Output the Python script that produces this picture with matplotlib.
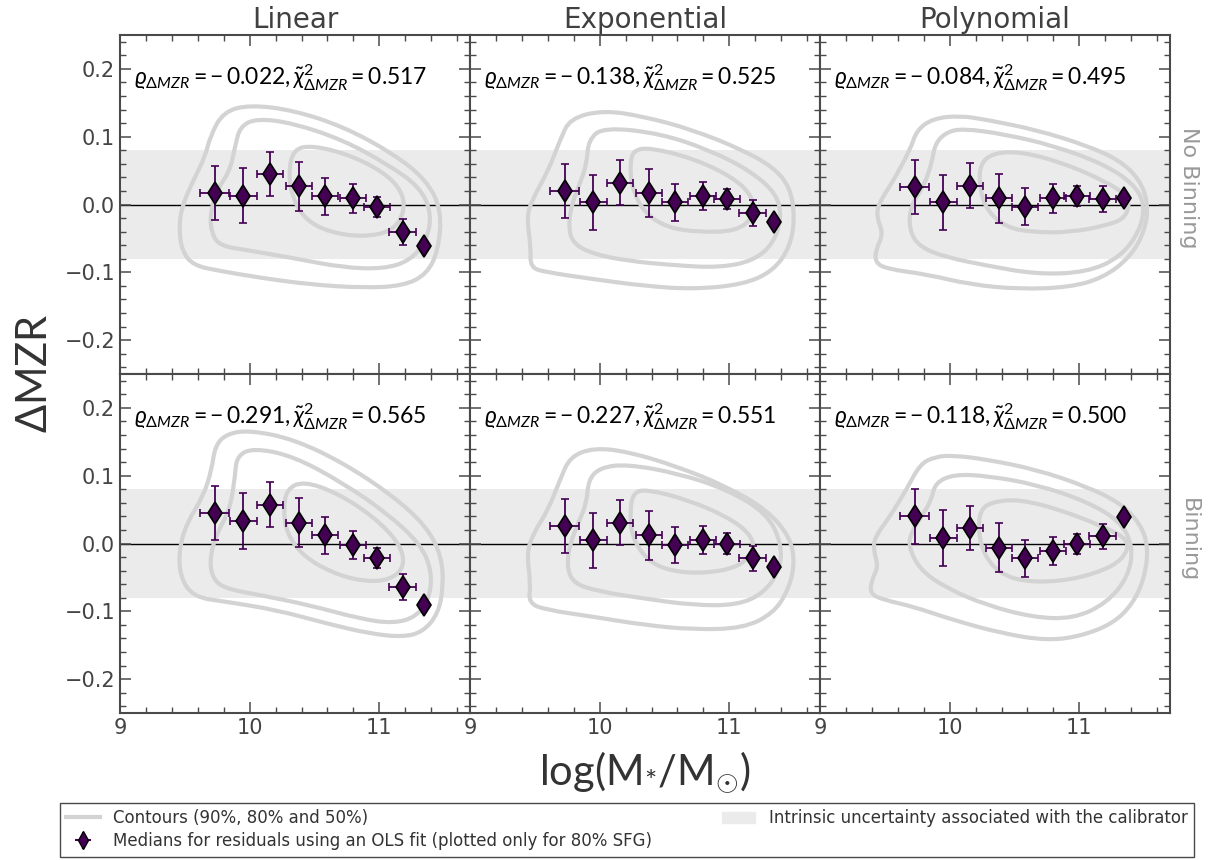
import numpy as np
import matplotlib
matplotlib.use("Agg")
import matplotlib.pyplot as plt
from matplotlib.path import Path
from matplotlib.patches import PathPatch, Patch
from matplotlib.lines import Line2D
from matplotlib.ticker import MultipleLocator

plt.rcParams['mathtext.fontset'] = 'custom'
plt.rcParams['mathtext.rm'] = 'Lato'
plt.rcParams['mathtext.it'] = 'Lato:italic'
plt.rcParams['mathtext.bf'] = 'Lato:bold'
plt.rcParams['font.family'] = ['DejaVu Sans']

# ---- data ----
fits = ['Linear', 'Exponential', 'Polynomial']
rows = ['No Binning', 'Binning']

mass = [9.73, 9.95, 10.16, 10.38, 10.58, 10.80, 10.98, 11.18, 11.345]
mass_err = [0.11, 0.105, 0.10, 0.10, 0.10, 0.10, 0.10, 0.105, 0.0]
med_err = [0.040, 0.041, 0.033, 0.036, 0.027, 0.021, 0.015, 0.019, 0.0]

lin_nb = [0.017, 0.013, 0.045, 0.027, 0.012, 0.009, -0.004, -0.040, -0.061]
exp_nb = [0.020, 0.003, 0.032, 0.017, 0.003, 0.0126, 0.0077, -0.012, -0.026]
pol_nb = [0.026, 0.003, 0.028, 0.009, -0.003, 0.009, 0.013, 0.0077, 0.009]
lin_b = [0.045, 0.033, 0.057, 0.031, 0.012, -0.002, -0.021, -0.064, -0.090]
exp_b = [0.026, 0.0045, 0.031, 0.012, -0.002, 0.0055, 0.0, -0.022, -0.035]
pol_b = [0.040, 0.0085, 0.023, -0.006, -0.022, -0.011, -0.001, 0.0104, 0.0385]

rho = [['0.022', '0.138', '0.084'], ['0.291', '0.227', '0.118']]  # all negative
chi2 = [['0.517', '0.525', '0.495'], ['0.565', '0.551', '0.500']]

band = 0.08

# contour outlines (90%, 80%, 50%) as (logM, dMZR) points
c_lin_nb = [
    [(9.694, 0.100), (9.797, 0.137), (10.003, 0.147), (10.337, 0.139), (10.722, 0.115),
     (11.108, 0.075), (11.365, 0.036), (11.481, -0.009), (11.455, -0.068), (11.365, -0.103),
     (11.185, -0.120), (10.877, -0.123), (10.465, -0.118), (10.080, -0.108), (9.771, -0.098),
     (9.566, -0.090), (9.476, -0.068), (9.455, -0.034), (9.476, -0.004), (9.553, 0.031),
     (9.656, 0.070)],
    [(9.925, 0.115), (10.054, 0.127), (10.337, 0.120), (10.722, 0.095), (11.057, 0.060),
     (11.314, 0.026), (11.404, -0.014), (11.365, -0.053), (11.237, -0.083), (11.031, -0.095),
     (10.722, -0.093), (10.362, -0.080), (10.003, -0.068), (9.771, -0.061), (9.707, -0.043),
     (9.694, -0.014), (9.746, 0.021), (9.848, 0.050), (9.887, 0.085)],
    [(10.337, 0.082), (10.491, 0.087), (10.774, 0.073), (11.031, 0.048), (11.172, 0.021),
     (11.198, -0.009), (11.108, -0.039), (10.877, -0.048), (10.620, -0.041), (10.440, -0.024),
     (10.337, 0.006), (10.298, 0.045)],
]
c_exp_nb = [
    [(9.771, 0.127), (10.028, 0.139), (10.337, 0.130), (10.722, 0.110), (11.108, 0.080),
     (11.339, 0.055), (11.468, 0.026), (11.506, -0.019), (11.468, -0.063), (11.339, -0.098),
     (11.108, -0.118), (10.722, -0.125), (10.337, -0.120), (9.951, -0.110), (9.591, -0.100),
     (9.463, -0.093), (9.470, -0.063), (9.437, -0.019), (9.476, 0.006), (9.604, 0.050),
     (9.694, 0.095)],
    [(9.913, 0.095), (10.028, 0.114), (10.465, 0.105), (10.851, 0.080), (11.159, 0.050),
     (11.365, 0.016), (11.404, -0.019), (11.339, -0.058), (11.185, -0.083), (10.928, -0.093),
     (10.594, -0.090), (10.208, -0.083), (9.951, -0.073), (9.797, -0.058), (9.758, -0.034),
     (9.784, 0.001), (9.848, 0.031), (9.900, 0.060)],
    [(10.260, 0.080), (10.388, 0.084), (10.722, 0.068), (11.031, 0.040), (11.185, 0.011),
     (11.185, -0.019), (11.057, -0.039), (10.774, -0.041), (10.517, -0.034), (10.337, -0.011),
     (10.247, 0.026), (10.234, 0.060)],
]
c_pol_nb = [
    [(9.746, 0.110), (9.874, 0.127), (10.080, 0.131), (10.285, 0.125), (10.671, 0.110),
     (11.057, 0.087), (11.314, 0.065), (11.468, 0.036), (11.532, 0.001), (11.506, -0.039),
     (11.391, -0.078), (11.185, -0.108), (10.928, -0.122), (10.542, -0.125), (10.157, -0.118),
     (9.823, -0.103), (9.514, -0.095), (9.424, -0.085), (9.432, -0.066), (9.488, -0.043),
     (9.437, -0.019), (9.450, 0.001), (9.553, 0.031), (9.694, 0.080)],
    [(9.887, 0.090), (9.977, 0.107), (10.105, 0.112), (10.414, 0.104), (10.799, 0.087),
     (11.185, 0.060), (11.416, 0.031), (11.506, 0.001), (11.468, -0.039), (11.314, -0.078),
     (11.057, -0.100), (10.671, -0.103), (10.285, -0.090), (9.977, -0.078), (9.771, -0.063),
     (9.689, -0.039), (9.694, -0.004), (9.797, 0.026), (9.861, 0.060)],
    [(10.234, 0.060), (10.337, 0.076), (10.542, 0.078), (10.851, 0.063), (11.185, 0.036),
     (11.391, 0.011), (11.365, -0.019), (11.211, -0.031), (10.928, -0.041), (10.645, -0.041),
     (10.440, -0.034), (10.285, -0.009), (10.229, 0.026)],
]
c_lin_b = [
    [(9.733, 0.144), (9.823, 0.162), (10.003, 0.167), (10.337, 0.154), (10.722, 0.119),
     (11.108, 0.070), (11.365, 0.025), (11.481, -0.019), (11.494, -0.064), (11.455, -0.103),
     (11.339, -0.130), (11.185, -0.138), (10.928, -0.133), (10.594, -0.118), (10.208, -0.098),
     (9.823, -0.086), (9.566, -0.079), (9.463, -0.049), (9.455, -0.009), (9.514, 0.030),
     (9.643, 0.070), (9.707, 0.109)],
    [(9.900, 0.129), (10.028, 0.141), (10.337, 0.129), (10.722, 0.089), (11.057, 0.045),
     (11.314, 0.000), (11.404, -0.039), (11.391, -0.079), (11.288, -0.108), (11.108, -0.118),
     (10.851, -0.111), (10.465, -0.091), (10.080, -0.076), (9.797, -0.066), (9.707, -0.049),
     (9.694, -0.019), (9.746, 0.015), (9.848, 0.050), (9.887, 0.099)],
    [(10.285, 0.080), (10.414, 0.092), (10.671, 0.075), (10.954, 0.040), (11.159, 0.000),
     (11.198, -0.034), (11.082, -0.054), (10.877, -0.056), (10.645, -0.044), (10.414, -0.019),
     (10.285, 0.015), (10.260, 0.050)],
]
c_exp_b = [
    [(9.771, 0.128), (9.951, 0.141), (10.208, 0.136), (10.594, 0.114), (10.980, 0.084),
     (11.288, 0.050), (11.468, 0.010), (11.506, -0.029), (11.455, -0.069), (11.339, -0.103),
     (11.108, -0.125), (10.722, -0.127), (10.337, -0.120), (9.951, -0.108), (9.591, -0.098),
     (9.450, -0.088), (9.468, -0.059), (9.437, -0.014), (9.488, 0.015), (9.604, 0.050),
     (9.694, 0.094)],
    [(9.913, 0.094), (10.003, 0.112), (10.208, 0.117), (10.594, 0.104), (10.980, 0.080),
     (11.288, 0.045), (11.404, 0.000), (11.391, -0.039), (11.262, -0.074), (11.057, -0.091),
     (10.722, -0.091), (10.337, -0.081), (10.003, -0.071), (9.797, -0.059), (9.746, -0.034),
     (9.771, 0.000), (9.835, 0.030), (9.900, 0.060)],
    [(10.260, 0.075), (10.362, 0.080), (10.671, 0.065), (10.980, 0.040), (11.159, 0.015),
     (11.198, -0.009), (11.082, -0.034), (10.825, -0.044), (10.542, -0.041), (10.362, -0.024),
     (10.247, 0.010), (10.234, 0.050)],
]
c_pol_b = [
    [(9.771, 0.117), (9.887, 0.128), (10.028, 0.130), (10.285, 0.124), (10.671, 0.109),
     (11.057, 0.084), (11.314, 0.060), (11.468, 0.030), (11.532, -0.004), (11.506, -0.049),
     (11.416, -0.088), (11.262, -0.118), (11.005, -0.137), (10.748, -0.143), (10.414, -0.133),
     (10.028, -0.113), (9.720, -0.093), (9.488, -0.083), (9.386, -0.074), (9.398, -0.054),
     (9.450, -0.034), (9.411, -0.009), (9.424, 0.010), (9.540, 0.040), (9.668, 0.080)],
    [(9.887, 0.089), (10.028, 0.102), (10.285, 0.100), (10.671, 0.087), (11.057, 0.062),
     (11.314, 0.033), (11.416, -0.004), (11.378, -0.049), (11.211, -0.088), (10.954, -0.111),
     (10.645, -0.109), (10.285, -0.091), (9.977, -0.066), (9.771, -0.039), (9.681, -0.004),
     (9.707, 0.018), (9.784, 0.040), (9.861, 0.065)],
    [(10.234, 0.050), (10.337, 0.062), (10.542, 0.065), (10.851, 0.050), (11.185, 0.025),
     (11.391, 0.005), (11.339, -0.024), (11.134, -0.044), (10.851, -0.056), (10.568, -0.056),
     (10.388, -0.044), (10.272, -0.019), (10.221, 0.015)],
]

medians = [[lin_nb, exp_nb, pol_nb], [lin_b, exp_b, pol_b]]
contours = [[c_lin_nb, c_exp_nb, c_pol_nb], [c_lin_b, c_exp_b, c_pol_b]]

cont_col = '#d3d3d3'
band_col = '#ebebeb'
med_col = '#440154'
axis_col = '#4a4a4a'


def closed_curve(ax, pts):
    # smooth closed outline through the read points (quadratic B-spline path)
    p = np.asarray(pts)
    n = len(p)
    mids = (p + np.roll(p, -1, axis=0)) / 2
    verts = [mids[-1]]
    codes = [Path.MOVETO]
    for i in range(n):
        verts += [p[i], mids[i]]
        codes += [Path.CURVE3, Path.CURVE3]
    ax.add_patch(PathPatch(Path(verts, codes), fc='none', ec=cont_col, lw=3, zorder=2))


fig, axes = plt.subplots(2, 3, figsize=(12.15, 8.6), dpi=100, sharex=True, sharey=True)
fig.subplots_adjust(left=0.0988, right=0.963, top=0.9593, bottom=0.1709, wspace=0, hspace=0)

for r in range(2):
    for c in range(3):
        ax = axes[r, c]
        ax.axhspan(-band, band, color=band_col, lw=0, zorder=0)
        ax.axhline(0, color='black', lw=1, zorder=1)
        for cont in contours[r][c]:
            closed_curve(ax, cont)
        ax.errorbar(mass, medians[r][c], xerr=mass_err, yerr=med_err, fmt='d',
                    ms=11.5, mfc=med_col, mec='black', mew=1.2, ecolor=med_col,
                    elinewidth=1.3, capsize=3, capthick=1.3, zorder=4)
        ax.text(0.04, 0.875,
                r'$\varrho_{\Delta MZR}=-\,%s,\tilde{\chi}^2_{\Delta MZR}=%s$'
                % (rho[r][c], chi2[r][c]),
                transform=ax.transAxes, fontsize=16.5, va='center', ha='left')
        ax.set_xlim(9, 11.7)
        ax.set_ylim(-0.25, 0.25)
        ax.xaxis.set_major_locator(MultipleLocator(1))
        ax.xaxis.set_minor_locator(MultipleLocator(0.2))
        ax.yaxis.set_major_locator(MultipleLocator(0.1))
        ax.yaxis.set_minor_locator(MultipleLocator(0.02))
        ax.tick_params(which='both', direction='in', top=True, right=True,
                       color=axis_col, labelcolor='#444444', labelsize=15)
        ax.tick_params(which='major', length=8, width=1.1)
        ax.tick_params(which='minor', length=4, width=1)
        for s in ax.spines.values():
            s.set_color(axis_col)
            s.set_linewidth(1.5)
        if r == 1:
            ax.tick_params(labelbottom=True)
        if r == 0:
            ax.set_title(fits[c], fontsize=20, color='#404040', pad=5)

axes[0, 2].text(1.025, 0.55, rows[0], transform=axes[0, 2].transAxes, rotation=270,
                fontsize=16, color='#999999', va='center', ha='left')
axes[1, 2].text(1.025, 0.51, rows[1], transform=axes[1, 2].transAxes, rotation=270,
                fontsize=16, color='#999999', va='center', ha='left')

fig.text(0.531, 0.102, r'$\mathrm{log(M_{*}/M_{\odot})}$', fontsize=30,
         color='#333333', ha='center', va='center')
fig.text(0.029, 0.566, r'$\mathrm{\Delta MZR}$', fontsize=30, color='#333333',
         rotation=90, ha='center', va='center')

h_cont = Line2D([], [], color=cont_col, lw=3)
h_med = axes[0, 0].errorbar([], [], xerr=[], yerr=[], fmt='d', ms=9, mfc=med_col,
                            mec='black', ecolor=med_col, capsize=2)
h_band = Patch(color=band_col)
leg = fig.legend([h_cont, h_med, h_band],
                 ['Contours (90%, 80% and 50%)',
                  'Medians for residuals using an OLS fit (plotted only for 80% SFG)',
                  'Intrinsic uncertainty associated with the calibrator'],
                 ncol=2, loc='lower left', bbox_to_anchor=(0.049, 0.0035, 0.934, 0.064),
                 mode='expand', fontsize=12, frameon=True, fancybox=False,
                 framealpha=1, edgecolor=axis_col, borderaxespad=0, labelspacing=0.3)
for t in leg.get_texts():
    t.set_color('#333333')

fig.savefig('out.png', dpi=100, facecolor='white')
